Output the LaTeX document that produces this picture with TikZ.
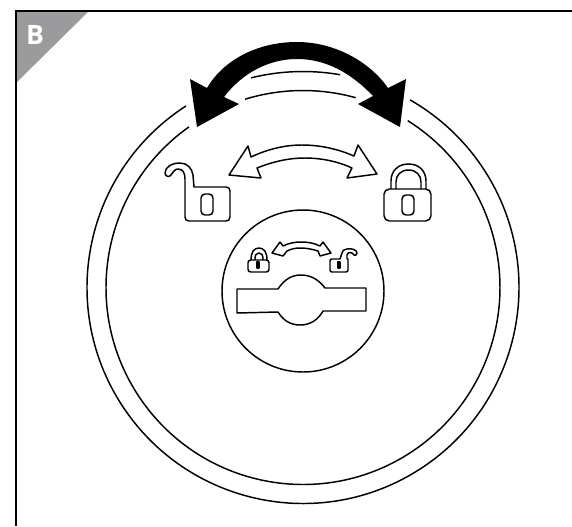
\documentclass[tikz,border=0pt]{standalone}
\usepackage{fontspec}
\setsansfont{Open Sans}
\usepackage{xcolor}
\definecolor{badgegray}{HTML}{9B9B9E}
\begin{document}
\begin{tikzpicture}[
    x=0.75pt, y=-0.75pt,
    ink/.style={draw=black, line width=1.1pt, line join=round},
    badge/.style={font=\sffamily\bfseries\fontsize{20}{20}\selectfont, text=white, inner sep=0pt}
  ]
  \useasboundingbox (0,0) rectangle (572,526);

  % frame and corner tab
  \fill[badgegray] (16,11) -- (89,11) -- (16,83) -- cycle;
  \draw[line width=1.2pt] (572,11) -- (16,11) -- (16,526);
  \node (tab) [badge] at (35,35) {B};

  % rings, broken by the big arrow
  \begin{scope}[shift={(303,287.5)}, y=0.75pt]
    \draw[ink] (122.8:216) arc[start angle=122.8, end angle=420.3, radius=216];
    \draw[ink] (103.9:216) arc[start angle=103.9, end angle=80.1, radius=216];
    \draw[ink] (125.4:197) arc[start angle=125.4, end angle=417.9, radius=197];
    \draw[ink] (107.1:197) arc[start angle=107.1, end angle=74.5, radius=197];
  \end{scope}

  % big arrow
  \fill[black] (197,127) -- (190,79) -- (207,88)
    .. controls (222,62) and (255,42) .. (297,42)
    .. controls (335,42) and (370,62) .. (388,88)
    -- (406,79) -- (400,127) -- (358,104) -- (373,96)
    .. controls (350,72) and (325,59) .. (297,59)
    .. controls (270,59) and (243,72) .. (224,97)
    -- (239,104) -- cycle;

  % white arrow
  \draw[ink] (229,175) -- (248,146) -- (251,157)
    .. controls (268,149) and (285,145) .. (302,145)
    .. controls (320,145) and (338,149) .. (354,156)
    -- (358,145) -- (377,174) -- (347,178) -- (352,168)
    .. controls (337,161) and (320,158) .. (305,158)
    .. controls (288,158) and (272,162) .. (257,168)
    -- (261,178) -- cycle;

  % open padlock
  \draw[ink] (194,187) -- (226,187)
    .. controls (229,187) and (230,189) .. (230,191) -- (230,217)
    .. controls (230,220) and (228,221) .. (226,221) -- (189,221)
    .. controls (186,221) and (185,219) .. (185,217) -- (185,179)
    .. controls (185,173) and (183,169) .. (178,169)
    .. controls (175,169) and (173,172) .. (171,175)
    .. controls (169,178) and (165,176) .. (165,173)
    .. controls (165,167) and (172,163) .. (180,163)
    .. controls (187,163) and (192,168) .. (193,175)
    -- cycle;
  \draw[ink, rounded corners=3pt] (201,194) rectangle (213,215);

  % closed padlock
  \draw[ink, rounded corners=4pt] (384,189) rectangle (431,221);
  \draw[ink] (391,189) -- (391,181)
    .. controls (391,171) and (398,164) .. (408.5,164)
    .. controls (419,164) and (426,171) .. (426,181) -- (426,189);
  \draw[ink] (396,189) -- (396,182)
    .. controls (396,175) and (401,170) .. (408.5,170)
    .. controls (416,170) and (421,175) .. (421,182) -- (421,189);
  \draw[ink, rounded corners=3pt] (402,195) rectangle (414,215);

  % inner disc and slot
  \draw[ink] (303,291) circle[radius=81];
  \draw[ink] (237,289) -- (278,289)
    .. controls (284,280) and (291,275) .. (301,275)
    .. controls (311,275) and (319,280) .. (325,288)
    -- (366,288) -- (366,311) -- (323,311)
    .. controls (318,320) and (310,325) .. (300,325)
    .. controls (290,325) and (283,320) .. (278,312)
    -- (237,313) -- cycle;

  % small closed padlock
  \draw[ink, rounded corners=2pt] (248,260) rectangle (269,272);
  \draw[ink] (251,260) .. controls (251,252) and (254,248) .. (259,248)
    .. controls (264,248) and (267,252) .. (267,260);
  \draw[ink] (255,260) .. controls (255,255) and (256,253) .. (259,253)
    .. controls (262,253) and (263,255) .. (263,260);
  \draw[ink] (257,262) rectangle (259,268);

  % small open padlock
  \draw[ink] (340,259) -- (332,259)
    .. controls (330.5,259) and (330,260) .. (330,261) -- (330,270)
    .. controls (330,271.5) and (331,272) .. (332,272) -- (346,272)
    .. controls (347.5,272) and (348,271) .. (348,270) -- (348,259)
    -- (347,259) -- (347,255)
    .. controls (348,252) and (351,252) .. (352,253)
    .. controls (353,255) and (356,257) .. (357,253)
    .. controls (357,250) and (352,248) .. (347,249)
    .. controls (344,249) and (342,251) .. (342,253) -- cycle;
  \draw[ink] (338,262) rectangle (340,268);

  % small arrow
  \draw[ink] (272,253) -- (280,242) -- (283,246)
    .. controls (289,243) and (295,242) .. (301,242)
    .. controls (308,242) and (314,243) .. (320,246)
    -- (323,242) -- (331,253) -- (320,256) -- (318,251)
    .. controls (312,249) and (306,248) .. (300,248)
    .. controls (295,248) and (291,249) .. (287,251)
    -- (283,256) -- cycle;
\end{tikzpicture}
\end{document}
